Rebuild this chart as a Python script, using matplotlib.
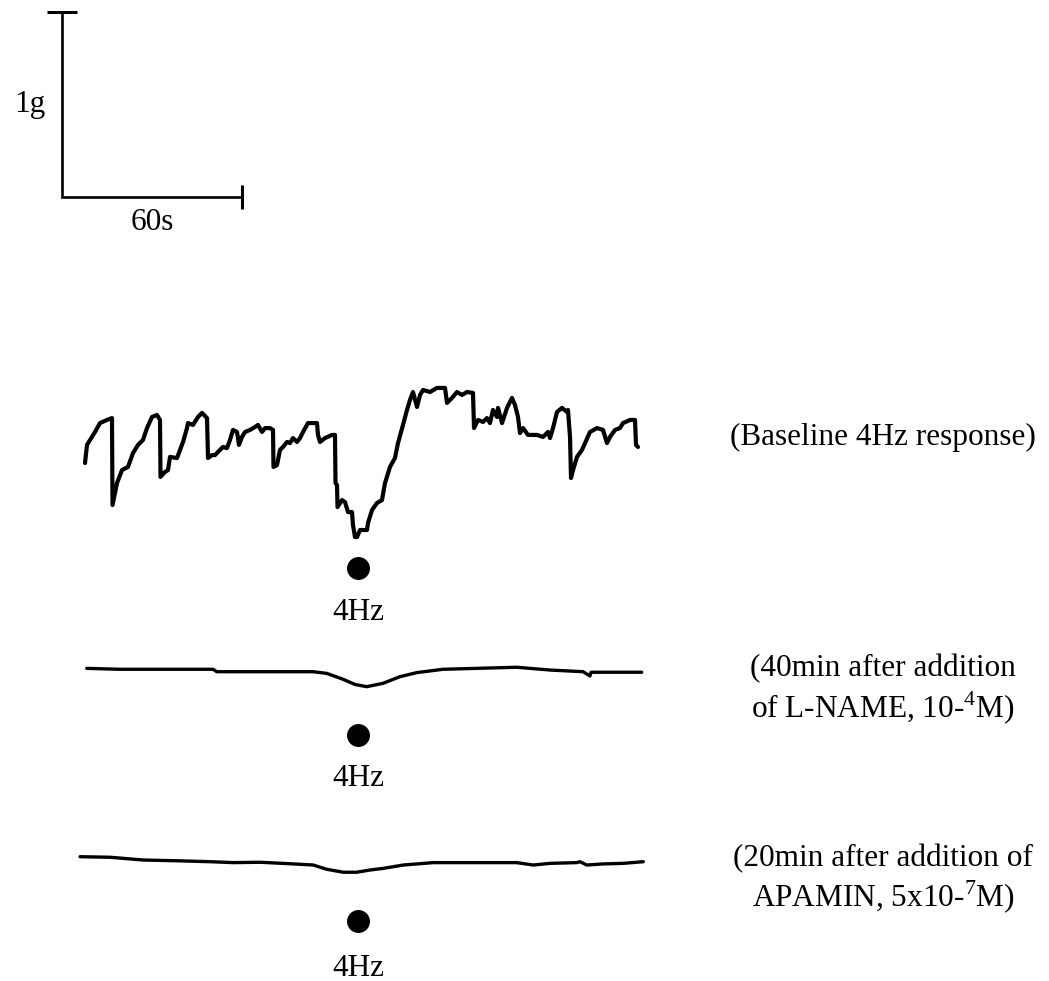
import matplotlib
matplotlib.use("Agg")
import matplotlib.pyplot as plt

plt.rcParams["font.family"] = ["Liberation Serif", "DejaVu Serif"]
plt.rcParams["mathtext.fontset"] = "custom"
plt.rcParams["mathtext.rm"] = "Liberation Serif"

# ---- recorded tension traces (time in s from trace start, tension in g) ----
baseline_t = [0, 0.67, 3.33, 5.0, 7.33, 9.0, 9.17, 10.67, 12.33, 14.33, 16.0, 17.67,
              19.33, 20.67, 22.33, 24.0, 25.0, 25.17, 26.67, 27.67, 28.33, 30.67, 31.67,
              32.67, 34.0, 34.33, 36.0, 37.67, 39.0, 40.67, 41.0, 42.33, 43.33, 44.33,
              46.0, 47.33, 48.33, 49.33, 50.67, 51.33, 52.33, 53.33, 55.0, 56.67, 57.67,
              59.0, 60.0, 61.67, 62.67, 62.83, 64.0, 65.0, 66.0, 67.33, 68.33, 69.33,
              70.67, 71.67, 72.67, 74.33, 77.33, 77.67, 78.33, 80.0, 82.33, 83.33, 83.5,
              84.0, 84.17, 85.67, 86.67, 87.67, 89.0, 89.33, 90.0, 90.67, 91.67, 94.0,
              94.33, 95.67, 97.33, 99.0, 100.0, 101.67, 103.33, 104.33, 106.0, 107.33,
              108.33, 109.33, 110.67, 111.67, 112.67, 115.0, 117.33, 120.0, 120.67,
              122.33, 124.0, 125.67, 127.33, 129.33, 129.67, 131.0, 132.67, 134.0, 135.0,
              136.0, 137.33, 137.67, 139.0, 140.67, 142.33, 143.33, 144.33, 145.0, 146.0,
              147.67, 150.67, 152.67, 154.33, 155.0, 156.0, 157.33, 159.0, 160.67, 161.0,
              161.67, 162.0, 162.67, 164.0, 165.67, 166.67, 168.33, 170.67, 172.67, 174.0,
              175.0, 176.67, 178.33, 179.33, 181.67, 183.33, 183.67, 184.33]
baseline_g = [0.443, 0.541, 0.611, 0.659, 0.676, 0.686, 0.216, 0.335, 0.405, 0.422, 0.497,
              0.541, 0.568, 0.632, 0.692, 0.703, 0.676, 0.368, 0.395, 0.405, 0.476, 0.470,
              0.514, 0.557, 0.632, 0.659, 0.649, 0.692, 0.714, 0.686, 0.470, 0.486, 0.486,
              0.503, 0.530, 0.524, 0.568, 0.622, 0.611, 0.541, 0.584, 0.611, 0.622, 0.638,
              0.649, 0.611, 0.632, 0.632, 0.622, 0.422, 0.432, 0.514, 0.530, 0.557, 0.551,
              0.578, 0.557, 0.578, 0.611, 0.659, 0.659, 0.595, 0.557, 0.578, 0.595, 0.595,
              0.335, 0.324, 0.205, 0.243, 0.232, 0.178, 0.178, 0.108, 0.043, 0.043, 0.081,
              0.081, 0.119, 0.189, 0.227, 0.243, 0.335, 0.422, 0.470, 0.551, 0.649, 0.730,
              0.784, 0.827, 0.746, 0.811, 0.838, 0.827, 0.849, 0.849, 0.768, 0.795, 0.827,
              0.811, 0.827, 0.822, 0.632, 0.676, 0.665, 0.686, 0.659, 0.730, 0.692, 0.741,
              0.659, 0.741, 0.795, 0.757, 0.692, 0.605, 0.632, 0.595, 0.595, 0.584, 0.611,
              0.578, 0.632, 0.719, 0.741, 0.719, 0.730, 0.584, 0.362, 0.405, 0.476, 0.514,
              0.551, 0.611, 0.632, 0.622, 0.551, 0.584, 0.622, 0.632, 0.659, 0.676, 0.676,
              0.541, 0.530]

lname_t = [0.57, 11.67, 42.67, 43.9, 76.0, 80.57, 86.0, 90.0, 93.9, 99.33, 105.0,
           110.57, 119.33, 143.9, 155.0, 166.0, 168.33, 168.67, 170.57, 185.57]
lname_g = [0.171, 0.166, 0.166, 0.153, 0.153, 0.144, 0.112, 0.084, 0.072, 0.090, 0.126,
           0.148, 0.166, 0.177, 0.162, 0.153, 0.130, 0.150, 0.150, 0.150]

apamin_t = [0, 10.0, 21.1, 32.23, 43.33, 51.1, 60.0, 71.1, 77.77, 82.23, 87.77, 92.23,
            96.67, 101.1, 107.77, 117.77, 145.57, 151.1, 156.67, 165.57, 166.67, 168.9,
            174.43, 181.1, 187.77]
apamin_g = [0.180, 0.177, 0.162, 0.158, 0.153, 0.148, 0.150, 0.141, 0.135, 0.112, 0.096,
            0.096, 0.108, 0.117, 0.135, 0.148, 0.148, 0.135, 0.144, 0.148, 0.153, 0.135,
            0.141, 0.144, 0.153]

stim_onset = [91.0, 91.0, 92.7]          # s after trace start
stim_label = "4Hz"
condition_labels = [
    "(Baseline 4Hz response)",
    "(40min after addition\nof L-NAME, 10-$^{4}$M)",
    "(20min after addition of\nAPAMIN, 5x10-$^{7}$M)",
]
scale_time = 60   # s
scale_force = 1   # g

# ---- page layout (axes units: seconds horizontally, grams vertically) ----
PX_PER_S = 3.0
PX_PER_G = 185.0
W, H = 1049, 981
FS = 22.5
fig = plt.figure(figsize=(W / 100, H / 100), dpi=100)
ax = fig.add_axes([0, 0, 1, 1])
ax.set_xlim(0, W / PX_PER_S)
ax.set_ylim(0, H / PX_PER_G)
ax.axis("off")

def sx(px):
    return px / PX_PER_S

def sy(py):
    return (H - py) / PX_PER_G

traces = [
    (baseline_t, baseline_g, sx(85), sy(545), 3.0, sy(568), sy(612)),
    (lname_t, lname_g, sx(85), sy(700), 2.4, sy(735), sy(778)),
    (apamin_t, apamin_g, sx(80), sy(890), 2.4, sy(921), sy(968)),
]
label_y = [[sy(437)], [sy(669), sy(708)], [sy(859), sy(897)]]

for (t, g, x0, y0, lw, dot_y, txt_y), onset in zip(traces, stim_onset):
    ax.plot([x0 + v for v in t], [y0 + v for v in g], color="black", lw=lw,
            solid_joinstyle="round", solid_capstyle="round")
    ax.plot([x0 + onset], [dot_y], "o", color="black", markersize=15.5)
    ax.text(x0 + onset, txt_y, stim_label, ha="center", va="center", fontsize=FS)

for lines, lab in zip(label_y, condition_labels):
    for yy, part in zip(lines, lab.split("\n")):
        ax.text(sx(883), yy, part, ha="center", va="center", fontsize=FS)

# ---- scale bar ----
bx, by = sx(62), sy(197)
ax.plot([bx, bx, bx + scale_time], [by + scale_force, by, by], color="black", lw=1.9,
        solid_joinstyle="miter")
ax.plot([bx], [by + scale_force], marker="_", markersize=22, mew=2.2, color="black")
ax.plot([bx + scale_time], [by], marker="|", markersize=17, mew=2.2, color="black")
ax.text(sx(30), by + scale_force / 2, f"{scale_force}g", ha="center", va="center",
        fontsize=FS)
ax.text(bx + scale_time / 2, sy(222), f"{scale_time}s", ha="center", va="center",
        fontsize=FS)

fig.savefig("out.png", dpi=100, facecolor="white")
